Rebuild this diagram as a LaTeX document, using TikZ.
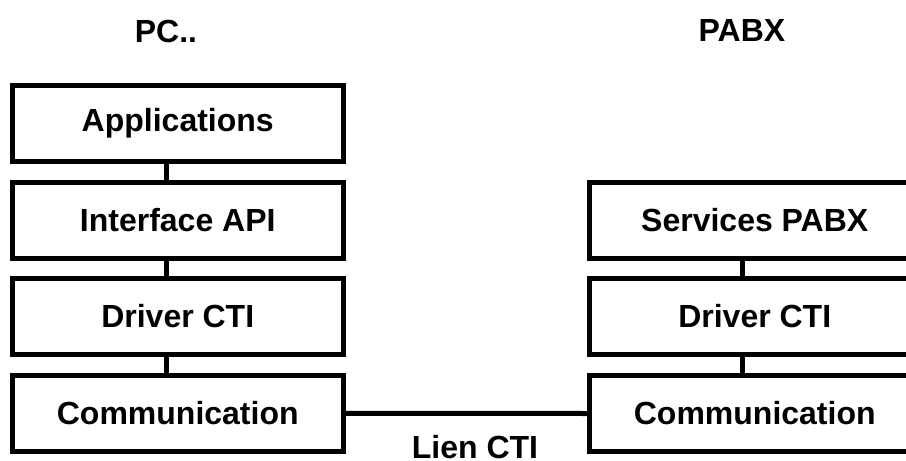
\documentclass[tikz,border=0pt]{standalone}
\usepackage{fontspec}
\setmainfont{Liberation Sans}
\begin{document}
\begin{tikzpicture}[x=1pt,y=-1pt,
  lbl/.style={font=\fontsize{32}{38}\selectfont\bfseries},
  box/.style={draw,line width=5pt,minimum width=330.5pt,minimum height=76pt,inner sep=0pt,lbl},
  title/.style={lbl,inner sep=0pt,anchor=base},
  link/.style={line width=5pt}]
\useasboundingbox (0,0) rectangle (906,461);
\clip (0,0) rectangle (906,461);
\node[title] (pc) at (166,42) {PC..};
\node[title] (pabx) at (742,41) {PABX};
\node[box] (l1) at (177.75,123.5) {Applications};
\node[box] (l2) at (177.75,220.25) {Interface API};
\node[box] (l3) at (177.75,316.25) {Driver CTI};
\node[box] (l4) at (177.75,413.25) {Communication};
\node[box] (r1) at (754.75,220) {Services PABX};
\node[box] (r2) at (754.75,316) {Driver CTI};
\node[box] (r3) at (754.75,413.5) {Communication};
\draw[link] (l1.south -| pc) -- (l2.north -| pc);
\draw[link] (l2.south -| pc) -- (l3.north -| pc);
\draw[link] (l3.south -| pc) -- (l4.north -| pc);
\draw[link] (r1.south -| pabx) -- (r2.north -| pabx);
\draw[link] (r2.south -| pabx) -- (r3.north -| pabx);
\draw[link] (l4.east) -- (r3.west);
\node[title] (lien) at (475,458) {Lien CTI};
\end{tikzpicture}
\end{document}
